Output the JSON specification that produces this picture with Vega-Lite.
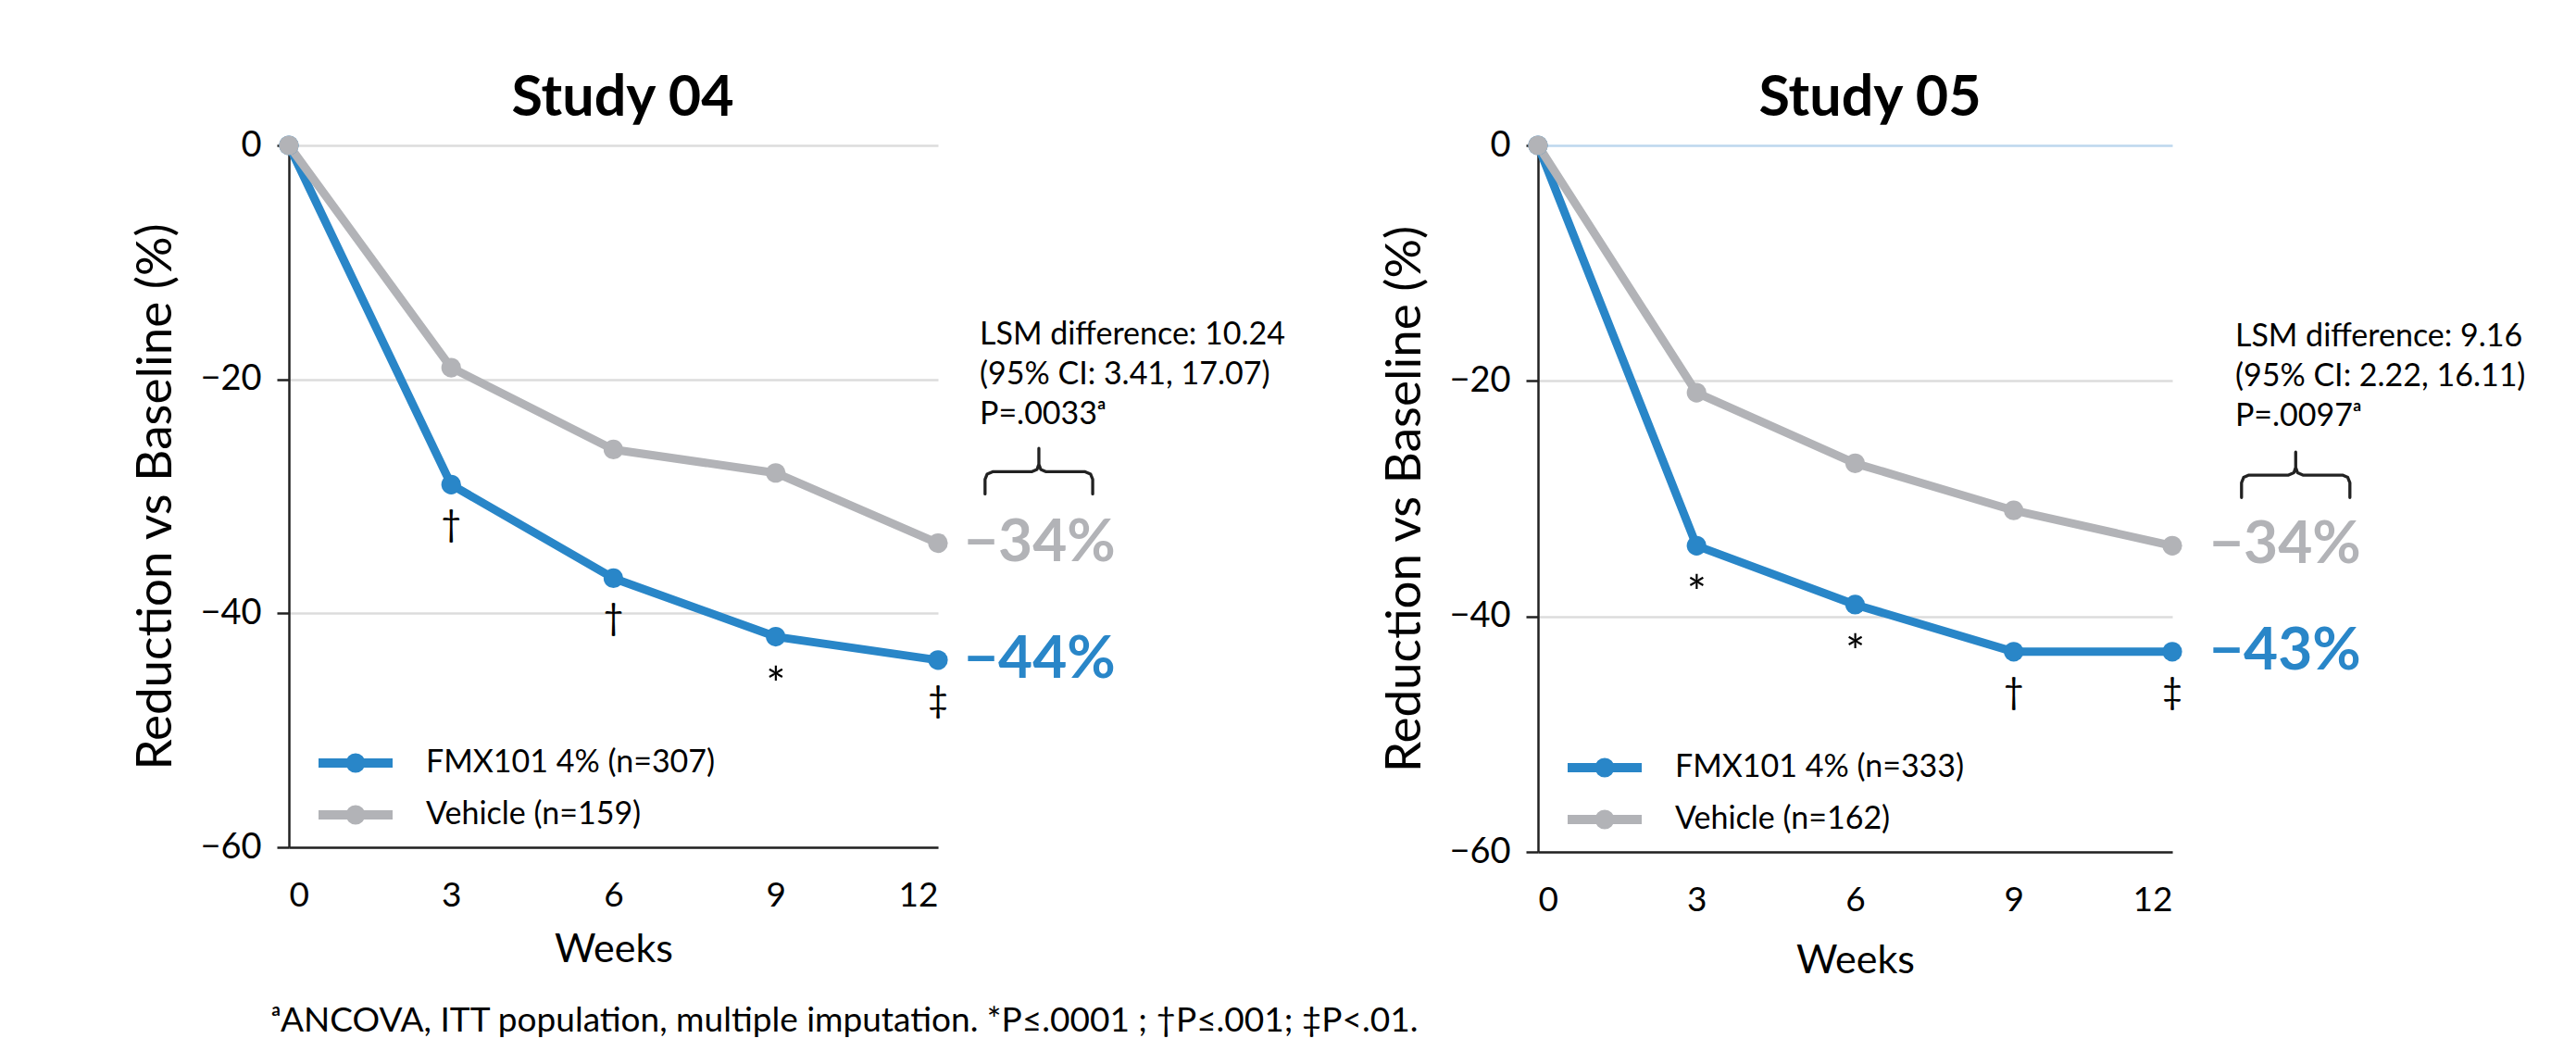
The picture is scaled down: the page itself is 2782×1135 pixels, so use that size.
{
  "$schema": "https://vega.github.io/schema/vega-lite/v6.json",
  "background": "white",
  "padding": {"left": 142, "top": 76, "right": 5, "bottom": 5},
  "bounds": "flush",
  "spacing": 648,
  "config": {
    "font": "Lato",
    "view": {"stroke": null},
    "axis": {"labelColor": "#000", "titleColor": "#000", "domainColor": "#222", "tickColor": "#222", "titleFontWeight": "normal"},
    "title": {"color": "#000"}
  },
  "title": {"text": "ᵃANCOVA, ITT population, multiple imputation. *P≤.0001 ; †P≤.001; ‡P<.01.", "orient": "bottom", "anchor": "start", "fontSize": 37, "fontWeight": "normal", "color": "#000", "dx": 150, "offset": 26, "frame": "bounds"},
  "resolve": {"scale": {"x": "independent", "y": "independent", "color": "independent"}, "legend": {"color": "independent"}},
  "datasets": {
    "s04": [
      {"group": "FMX101 4% (n=307)", "week": 0, "value": 0},
      {"group": "FMX101 4% (n=307)", "week": 3, "value": -29},
      {"group": "FMX101 4% (n=307)", "week": 6, "value": -37},
      {"group": "FMX101 4% (n=307)", "week": 9, "value": -42},
      {"group": "FMX101 4% (n=307)", "week": 12, "value": -44},
      {"group": "Vehicle (n=159)", "week": 0, "value": 0},
      {"group": "Vehicle (n=159)", "week": 3, "value": -19},
      {"group": "Vehicle (n=159)", "week": 6, "value": -26},
      {"group": "Vehicle (n=159)", "week": 9, "value": -28},
      {"group": "Vehicle (n=159)", "week": 12, "value": -34}
    ],
    "s05": [
      {"group": "FMX101 4% (n=333)", "week": 0, "value": 0},
      {"group": "FMX101 4% (n=333)", "week": 3, "value": -34},
      {"group": "FMX101 4% (n=333)", "week": 6, "value": -39},
      {"group": "FMX101 4% (n=333)", "week": 9, "value": -43},
      {"group": "FMX101 4% (n=333)", "week": 12, "value": -43},
      {"group": "Vehicle (n=162)", "week": 0, "value": 0},
      {"group": "Vehicle (n=162)", "week": 3, "value": -21},
      {"group": "Vehicle (n=162)", "week": 6, "value": -27},
      {"group": "Vehicle (n=162)", "week": 9, "value": -31},
      {"group": "Vehicle (n=162)", "week": 12, "value": -34}
    ],
    "sig04": [
      {"week": 3, "value": -29, "sig": "†"},
      {"week": 6, "value": -37, "sig": "†"},
      {"week": 9, "value": -42, "sig": "*"},
      {"week": 12, "value": -44, "sig": "‡"}
    ],
    "sig05": [
      {"week": 3, "value": -34, "sig": "*"},
      {"week": 6, "value": -39, "sig": "*"},
      {"week": 9, "value": -43, "sig": "†"},
      {"week": 12, "value": -43, "sig": "‡"}
    ],
    "end04": [
      {"group": "Vehicle (n=159)", "week": 12, "value": -34, "label": "−34%"},
      {"group": "FMX101 4% (n=307)", "week": 12, "value": -44, "label": "−44%"}
    ],
    "end05": [
      {"group": "Vehicle (n=162)", "week": 12, "value": -34, "label": "−34%"},
      {"group": "FMX101 4% (n=333)", "week": 12, "value": -43, "label": "−43%"}
    ],
    "lsm04": [
      {"week": 12.77, "value": -17.0, "note": "LSM difference: 10.24\n(95% CI: 3.41, 17.07)\nP=.0033ᵃ"}
    ],
    "lsm05": [
      {"week": 13.19, "value": -17.1, "note": "LSM difference: 9.16\n(95% CI: 2.22, 16.11)\nP=.0097ᵃ"}
    ],
    "brace04": [
      {"i": 1, "week": 12.87, "value": -29.8},
      {"i": 2, "week": 12.87, "value": -28.55},
      {"i": 3, "week": 12.91, "value": -28.1},
      {"i": 4, "week": 13.01, "value": -27.9},
      {"i": 5, "week": 13.73, "value": -27.9},
      {"i": 6, "week": 13.83, "value": -27.7},
      {"i": 7, "week": 13.865, "value": -27.25},
      {"i": 8, "week": 13.865, "value": -25.9},
      {"i": 9, "week": 13.865, "value": -27.25},
      {"i": 10, "week": 13.9, "value": -27.7},
      {"i": 11, "week": 14.0, "value": -27.9},
      {"i": 12, "week": 14.72, "value": -27.9},
      {"i": 13, "week": 14.82, "value": -28.1},
      {"i": 14, "week": 14.86, "value": -28.55},
      {"i": 15, "week": 14.86, "value": -29.8}
    ],
    "brace05": [
      {"i": 1, "week": 13.31, "value": -29.9},
      {"i": 2, "week": 13.31, "value": -28.65},
      {"i": 3, "week": 13.35, "value": -28.2},
      {"i": 4, "week": 13.45, "value": -28.0},
      {"i": 5, "week": 14.2, "value": -28.0},
      {"i": 6, "week": 14.3, "value": -27.8},
      {"i": 7, "week": 14.335, "value": -27.35},
      {"i": 8, "week": 14.335, "value": -26.04},
      {"i": 9, "week": 14.335, "value": -27.35},
      {"i": 10, "week": 14.37, "value": -27.8},
      {"i": 11, "week": 14.47, "value": -28.0},
      {"i": 12, "week": 15.22, "value": -28.0},
      {"i": 13, "week": 15.32, "value": -28.2},
      {"i": 14, "week": 15.36, "value": -28.65},
      {"i": 15, "week": 15.36, "value": -29.9}
    ]
  },
  "hconcat": [
    {
      "width": 701,
      "height": 758,
      "title": {"text": "Study 04", "fontSize": 61, "fontWeight": "bold", "anchor": "middle", "dx": 10, "offset": 0, "frame": "group"},
      "encoding": {
        "x": {"field": "week", "type": "quantitative", "scale": {"domain": [0, 12], "nice": false, "zero": false},
          "axis": {"title": "Weeks", "values": [0, 3, 6, 9, 12], "grid": false, "ticks": false, "tickSize": 0, "domainWidth": 2.5, "labelFontSize": 37, "labelPadding": 34, "titleFontSize": 43, "titlePadding": 19}},
        "y": {"field": "value", "type": "quantitative", "scale": {"domain": [-60, 0], "nice": false},
          "axis": {"title": "Reduction vs Baseline (%)", "values": [0, -20, -40, -60], "labelExpr": "datum.value == 0 ? '0' : '−' + abs(datum.value)", "grid": true, "gridColor": "#dcdcdc", "gridWidth": 2.5, "domainWidth": 2.5, "tickSize": 13, "tickWidth": 2.5, "labelFontSize": 38, "labelPadding": 17, "titleFontSize": 53, "titlePadding": 20}}
      },
      "layer": [
        {
          "data": {"name": "s04"},
          "mark": {"type": "line", "strokeWidth": 9, "strokeCap": "round", "strokeJoin": "round"},
          "encoding": {
            "color": {"field": "group", "type": "nominal",
              "scale": {"domain": ["FMX101 4% (n=307)", "Vehicle (n=159)"], "range": ["#2986c8", "#b2b3b7"]},
              "legend": {"title": null, "orient": "bottom-left", "offset": 9, "padding": 0, "symbolType": "M-8,0L8,0M1.1,0A1.1,1.1,0,1,1,-1.1,0A1.1,1.1,0,1,1,1.1,0Z", "symbolSize": 100, "symbolStrokeWidth": 10, "symbolOffset": 46, "labelFontSize": 34, "labelOffset": 59, "rowPadding": 4, "labelColor": "#000", "labelLimit": 800}}
          }
        },
        {
          "data": {"name": "s04"},
          "mark": {"type": "point", "filled": true, "size": 450, "opacity": 1},
          "encoding": {"color": {"field": "group", "type": "nominal", "legend": null}}
        },
        {
          "data": {"name": "sig04"},
          "transform": [{"filter": "datum.sig !== '*'"}],
          "mark": {"type": "text", "fontSize": 38, "dy": 45, "align": "center", "baseline": "middle", "color": "#000"},
          "encoding": {"text": {"field": "sig", "type": "nominal"}}
        },
        {
          "data": {"name": "sig04"},
          "transform": [{"filter": "datum.sig === '*'"}],
          "mark": {"type": "text", "fontSize": 50, "dy": 54, "align": "center", "baseline": "middle", "color": "#000"},
          "encoding": {"text": {"field": "sig", "type": "nominal"}}
        },
        {
          "data": {"name": "end04"},
          "mark": {"type": "text", "fontSize": 64, "fontWeight": "bold", "align": "left", "baseline": "middle", "dx": 28},
          "encoding": {"text": {"field": "label", "type": "nominal"}, "color": {"field": "group", "type": "nominal", "legend": null}}
        },
        {
          "data": {"name": "lsm04"},
          "mark": {"type": "text", "fontSize": 34, "align": "left", "baseline": "alphabetic", "lineBreak": "\n", "lineHeight": 43, "color": "#000"},
          "encoding": {"text": {"field": "note", "type": "nominal"}}
        },
        {
          "data": {"name": "brace04"},
          "mark": {"type": "line", "color": "#222", "strokeWidth": 3.3, "strokeJoin": "round", "strokeCap": "round"},
          "encoding": {"order": {"field": "i", "type": "quantitative"}}
        }
      ]
    },
    {
      "width": 685,
      "height": 763,
      "title": {"text": "Study 05", "fontSize": 61, "fontWeight": "bold", "anchor": "middle", "dx": 16, "offset": 0, "frame": "group"},
      "encoding": {
        "x": {"field": "week", "type": "quantitative", "scale": {"domain": [0, 12], "nice": false, "zero": false},
          "axis": {"title": "Weeks", "values": [0, 3, 6, 9, 12], "grid": false, "ticks": false, "tickSize": 0, "domainWidth": 2.5, "labelFontSize": 37, "labelPadding": 34, "titleFontSize": 43, "titlePadding": 26}},
        "y": {"field": "value", "type": "quantitative", "scale": {"domain": [-60, 0], "nice": false},
          "axis": {"title": "Reduction vs Baseline (%)", "values": [0, -20, -40, -60], "labelExpr": "datum.value == 0 ? '0' : '−' + abs(datum.value)", "grid": true, "gridColor": {"condition": {"test": "datum.value === 0", "value": "#bdd7ee"}, "value": "#dcdcdc"}, "gridWidth": 2.5, "domainWidth": 2.5, "tickSize": 13, "tickWidth": 2.5, "labelFontSize": 38, "labelPadding": 17, "titleFontSize": 53, "titlePadding": 20}}
      },
      "layer": [
        {
          "data": {"name": "s05"},
          "mark": {"type": "line", "strokeWidth": 9, "strokeCap": "round", "strokeJoin": "round"},
          "encoding": {
            "color": {"field": "group", "type": "nominal",
              "scale": {"domain": ["FMX101 4% (n=333)", "Vehicle (n=162)"], "range": ["#2986c8", "#b2b3b7"]},
              "legend": {"title": null, "orient": "bottom-left", "offset": 9, "padding": 0, "symbolType": "M-8,0L8,0M1.1,0A1.1,1.1,0,1,1,-1.1,0A1.1,1.1,0,1,1,1.1,0Z", "symbolSize": 100, "symbolStrokeWidth": 10, "symbolOffset": 46, "labelFontSize": 34, "labelOffset": 59, "rowPadding": 4, "labelColor": "#000", "labelLimit": 800}}
          }
        },
        {
          "data": {"name": "s05"},
          "mark": {"type": "point", "filled": true, "size": 450, "opacity": 1},
          "encoding": {"color": {"field": "group", "type": "nominal", "legend": null}}
        },
        {
          "data": {"name": "sig05"},
          "transform": [{"filter": "datum.sig !== '*'"}],
          "mark": {"type": "text", "fontSize": 38, "dy": 45, "align": "center", "baseline": "middle", "color": "#000"},
          "encoding": {"text": {"field": "sig", "type": "nominal"}}
        },
        {
          "data": {"name": "sig05"},
          "transform": [{"filter": "datum.sig === '*'"}],
          "mark": {"type": "text", "fontSize": 50, "dy": 54, "align": "center", "baseline": "middle", "color": "#000"},
          "encoding": {"text": {"field": "sig", "type": "nominal"}}
        },
        {
          "data": {"name": "end05"},
          "mark": {"type": "text", "fontSize": 64, "fontWeight": "bold", "align": "left", "baseline": "middle", "dx": 40},
          "encoding": {"text": {"field": "label", "type": "nominal"}, "color": {"field": "group", "type": "nominal", "legend": null}}
        },
        {
          "data": {"name": "lsm05"},
          "mark": {"type": "text", "fontSize": 34, "align": "left", "baseline": "alphabetic", "lineBreak": "\n", "lineHeight": 43, "color": "#000"},
          "encoding": {"text": {"field": "note", "type": "nominal"}}
        },
        {
          "data": {"name": "brace05"},
          "mark": {"type": "line", "color": "#222", "strokeWidth": 3.3, "strokeJoin": "round", "strokeCap": "round"},
          "encoding": {"order": {"field": "i", "type": "quantitative"}}
        }
      ]
    }
  ]
}
